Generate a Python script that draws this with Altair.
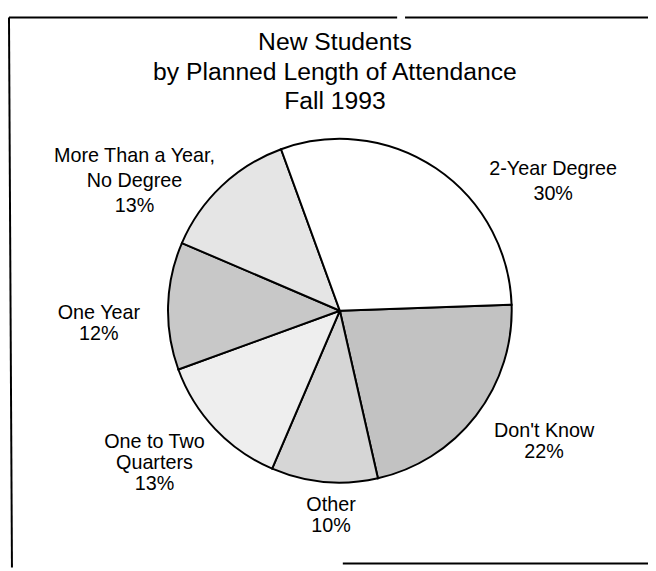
import math
import altair as alt
import pandas as pd

# ---- data ----
categories = ["Don't Know", "Other", "One to Two Quarters", "One Year",
              "More Than a Year, No Degree", "2-Year Degree"]
percents = [22, 10, 13, 12, 13, 30]
label_lines = [["Don't Know"], ["Other"], ["One to Two", "Quarters"], ["One Year"],
               ["More Than a Year,", "No Degree"], ["2-Year Degree"]]
title_lines = ["New Students", "by Planned Length of Attendance", "Fall 1993"]

# ---- layout / style (not data) ----
# polar position of each label's first line, measured from the pie centre
label_angle_deg = [120.5, 182.6, 234.7, 269.5, 306.9, 56.5]
label_dist = [240, 197, 230, 244, 260, 259]
label_group = ["tight", "tight", "tight", "tight", "loose", "loose"]
fills = ["#c2c2c2", "#d6d6d6", "#eeeeee", "#c8c8c8", "#e5e5e5", "#ffffff"]

W, H = 648, 563
CX, CY, R = 336, 303, 174
start = math.radians(88)
FONT = "Liberation Sans"

df = pd.DataFrame({"cat": categories, "pct": percents, "ord": list(range(len(categories)))})

label_texts = ["\n".join(lines + [f"{p}%"]) for lines, p in zip(label_lines, percents)]
lab = pd.DataFrame({
    "text": label_texts,
    "a": [math.radians(d) for d in label_angle_deg],
    "r": label_dist,
    "g": label_group,
})

pie = alt.Chart(df).mark_arc(stroke="black", strokeWidth=2, outerRadius=R).encode(
    theta=alt.Theta("pct:Q", stack=True,
                    scale=alt.Scale(domain=[0, 100], range=[start, start + 2 * math.pi])),
    order=alt.Order("ord:Q"),
    color=alt.Color("cat:N", scale=alt.Scale(domain=categories, range=fills), legend=None),
    x=alt.value(CX),
    y=alt.value(CY),
)


def label_layer(group, lh):
    return alt.Chart(lab).transform_filter(alt.datum.g == group).mark_text(
        font=FONT, fontSize=20, lineBreak="\n", lineHeight=lh,
        align="center", baseline="middle", color="black",
    ).encode(
        theta=alt.Theta("a:Q", scale=None, stack=False),
        radius=alt.Radius("r:Q", scale=None),
        text="text:N",
        x=alt.value(CX),
        y=alt.value(CY),
    )


labels_tight = label_layer("tight", 21.5)
labels_loose = label_layer("loose", 25)

title = alt.Chart(pd.DataFrame({"t": ["\n".join(title_lines)]})).mark_text(
    font=FONT, fontSize=25, lineBreak="\n", lineHeight=30,
    align="center", baseline="middle", color="black",
).encode(text="t:N", x=alt.value(331), y=alt.value(31))

one = pd.DataFrame({"k": [0]})


def frame_line(x1, y1, x2, y2):
    return alt.Chart(one).mark_rule(color="black", strokeWidth=2).encode(
        x=alt.value(x1), y=alt.value(y1), x2=alt.value(x2), y2=alt.value(y2))


left_border = frame_line(1, 6, 4, H)
top_border_a = frame_line(1, 6, 394, 6)
top_border_b = frame_line(402, 6, W, 6)
bottom_border = frame_line(339, 559, W, 559)

chart = alt.layer(left_border, top_border_a, top_border_b, bottom_border, pie,
                  labels_tight, labels_loose, title).resolve_scale(
    theta="independent", radius="independent"
).properties(
    width=W, height=H, padding=0, autosize=alt.AutoSizeParams(type="none"),
    background="white",
).configure_view(stroke="transparent")

chart.save("out.html", embed_options={"renderer": "svg", "actions": False})
